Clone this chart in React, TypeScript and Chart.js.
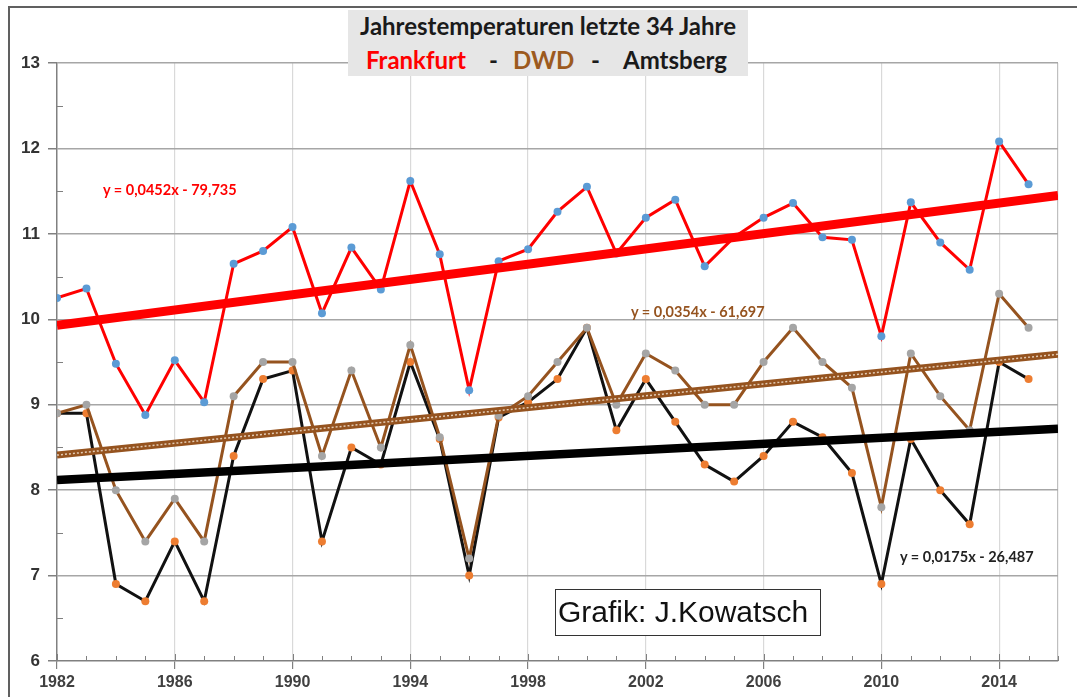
import React, { useEffect, useRef } from 'react';
import { Chart, registerables } from 'chart.js';

Chart.register(...registerables);

// ---- data ----
const years = [1982, 1983, 1984, 1985, 1986, 1987, 1988, 1989, 1990, 1991, 1992, 1993, 1994, 1995, 1996, 1997, 1998,
  1999, 2000, 2001, 2002, 2003, 2004, 2005, 2006, 2007, 2008, 2009, 2010, 2011, 2012, 2013, 2014, 2015];

const frankfurt = [10.25, 10.36, 9.48, 8.88, 9.52, 9.03, 10.65, 10.8, 11.08, 10.07, 10.84, 10.35, 11.62, 10.76, 9.17,
  10.68, 10.82, 11.26, 11.55, 10.77, 11.19, 11.4, 10.62, 10.96, 11.19, 11.36, 10.96, 10.93, 9.8, 11.37, 10.9, 10.58,
  12.08, 11.58];

const dwd = [8.9, 9.0, 8.0, 7.4, 7.9, 7.4, 9.1, 9.5, 9.5, 8.4, 9.4, 8.5, 9.7, 8.62, 7.2, 8.87, 9.1, 9.5, 9.9, 9.0, 9.6,
  9.4, 9.0, 9.0, 9.5, 9.9, 9.5, 9.2, 7.8, 9.6, 9.1, 8.7, 10.3, 9.9];

const amtsberg = [8.9, 8.9, 6.9, 6.7, 7.4, 6.7, 8.4, 9.3, 9.4, 7.4, 8.5, 8.3, 9.5, 8.6, 7.0, 8.85, 9.03, 9.3, 9.9, 8.7,
  9.3, 8.8, 8.3, 8.1, 8.4, 8.8, 8.62, 8.2, 6.9, 8.6, 8.0, 7.6, 9.5, 9.3];

const trendYears = [1982, 2016];
const frankfurtTrend = [9.93, 11.45];
const dwdTrend = [8.41, 9.59];
const amtsbergTrend = [8.12, 8.72];

const xTickLabels = [1982, 1986, 1990, 1994, 1998, 2002, 2006, 2010, 2014];
const yTickLabels = [6, 7, 8, 9, 10, 11, 12, 13];

const frankfurtEq = 'y = 0,0452x - 79,735';
const dwdEq = 'y = 0,0354x - 61,697';
const amtsbergEq = 'y = 0,0175x - 26,487';

const RED = '#ff0000';
const BROWN = '#95531f';
const BLACK = '#000000';

const pts = (xs: number[], ys: number[]) => xs.map((x, i) => ({ x, y: ys[i] }));

const minorTicks = {
  id: 'minorTicks',
  beforeDatasetsDraw(chart: any) {
    const { ctx, chartArea } = chart;
    const x = chart.scales.x;
    const y = chart.scales.y;
    ctx.save();
    ctx.strokeStyle = '#808080';
    ctx.lineWidth = 1;
    years.concat([2016]).forEach((yr) => {
      const px = Math.round(x.getPixelForValue(yr)) + 0.5;
      const major = xTickLabels.includes(yr);
      ctx.beginPath();
      ctx.moveTo(px, chartArea.bottom);
      ctx.lineTo(px, chartArea.bottom - (major ? 7 : 5));
      ctx.stroke();
    });
    yTickLabels.forEach((v) => {
      if (v + 0.5 > 13) return;
      const py = Math.round(y.getPixelForValue(v + 0.5)) + 0.5;
      ctx.beginPath();
      ctx.moveTo(chartArea.left, py);
      ctx.lineTo(chartArea.left + 6, py);
      ctx.stroke();
    });
    ctx.restore();
  },
};

function ChartCanvas() {
  const ref = useRef<HTMLCanvasElement | null>(null);
  useEffect(() => {
    if (!ref.current) return;
    const chart = new Chart(ref.current, {
      type: 'line',
      data: {
        datasets: [
          { data: pts(trendYears, frankfurtTrend), borderColor: RED, borderWidth: 9, pointRadius: 0, tension: 0 },
          { data: pts(trendYears, dwdTrend), borderColor: 'rgba(235,215,195,0.9)', borderWidth: 1.5, borderDash: [2, 2], pointRadius: 0, tension: 0 },
          { data: pts(trendYears, dwdTrend), borderColor: BROWN, borderWidth: 7, pointRadius: 0, tension: 0 },
          { data: pts(trendYears, amtsbergTrend), borderColor: BLACK, borderWidth: 8.5, pointRadius: 0, tension: 0 },
          { data: pts(years, frankfurt), borderColor: RED, borderWidth: 3, pointRadius: 4, pointBorderWidth: 0, pointBackgroundColor: '#5b9bd5', tension: 0 },
          { data: pts(years, dwd), borderColor: BROWN, borderWidth: 3, pointRadius: 4, pointBorderWidth: 0, pointBackgroundColor: '#a5a5a5', tension: 0 },
          { data: pts(years, amtsberg), borderColor: '#111111', borderWidth: 3, pointRadius: 4, pointBorderWidth: 0, pointBackgroundColor: '#ed7d31', tension: 0 },
        ],
      },
      options: {
        responsive: false,
        animation: false,
        events: [],
        layout: { padding: { top: 63, right: 19, left: 0, bottom: 0 } },
        plugins: { legend: { display: false }, tooltip: { enabled: false }, title: { display: false } },
        scales: {
          x: {
            type: 'linear',
            min: 1982,
            max: 2016,
            afterFit: (s: any) => { s.height = 36; },
            ticks: {
              stepSize: 1,
              autoSkip: false,
              maxRotation: 0,
              padding: 4,
              color: '#404040',
              font: { family: 'Liberation Sans, Arial, sans-serif', size: 16, weight: 'bold' },
              callback: (v: any) => (xTickLabels.includes(Number(v)) ? String(v) : ''),
            },
            grid: {
              color: (c: any) => {
                const v = c.tick ? c.tick.value : null;
                if (v === 2016) return '#bfbfbf';
                if (v !== null && v !== 1982 && xTickLabels.includes(v)) return '#d9d9d9';
                return 'transparent';
              },
              tickColor: (c: any) => (c.tick && (xTickLabels.includes(c.tick.value)) ? '#808080' : 'transparent'),
              tickLength: 8,
              lineWidth: 1.2,
            },
            border: { display: true, color: '#808080', width: 1.5 },
          },
          y: {
            min: 6,
            max: 13,
            afterFit: (s: any) => { s.width = 57; },
            ticks: {
              stepSize: 0.5,
              autoSkip: false,
              padding: 8,
              color: '#333333',
              font: { family: 'Liberation Sans, Arial, sans-serif', size: 17, weight: 'bold' },
              callback: (v: any) => (yTickLabels.includes(Number(v)) ? String(v) : ''),
            },
            grid: {
              color: (c: any) => (c.tick && yTickLabels.includes(c.tick.value) && c.tick.value !== 6 ? '#a6a6a6' : 'transparent'),
              tickColor: (c: any) => (c.tick && yTickLabels.includes(c.tick.value) ? '#808080' : 'transparent'),
              tickLength: 9,
              lineWidth: 1.5,
            },
            border: { display: true, color: '#808080', width: 1.5 },
          },
        },
      },
      plugins: [minorTicks],
    } as any);
    return () => chart.destroy();
  }, []);
  return <canvas ref={ref} width={1077} height={697} style={{ position: 'absolute', left: 0, top: 0, width: 1077, height: 697 }} />;
}

const abs = (left: number, top: number, extra: React.CSSProperties = {}): React.CSSProperties => ({
  position: 'absolute', left, top, whiteSpace: 'nowrap', lineHeight: 1.2, ...extra,
});

export default function App() {
  const titleFont = 'Lato, "Open Sans", sans-serif';
  const t: React.CSSProperties = { fontFamily: titleFont, fontWeight: 700, fontSize: 24 };
  return (
    <div style={{ position: 'fixed', left: 0, top: 0, width: 1077, height: 697, background: '#ffffff', overflow: 'hidden' }}>
      <ChartCanvas />
      {/* outer frame */}
      <div style={{ position: 'absolute', left: 8, top: 6, width: 1100, height: 720, borderLeft: '2px solid #606060', borderTop: '2px solid #606060' }} />
      {/* title box */}
      <div style={{ position: 'absolute', left: 348, top: 10, width: 400, height: 66, background: '#e6e6e6' }} />
      <div style={abs(348, 12, { ...t, width: 400, textAlign: 'center', color: '#1a1a1a' })}>
        Jahrestemperaturen letzte 34 Jahre
      </div>
      <div style={abs(366, 46, { ...t, color: '#ff0000' })}>Frankfurt</div>
      <div style={abs(489, 46, { ...t, color: '#1a1a1a' })}>-</div>
      <div style={abs(513, 46, { ...t, color: '#9c5a1e' })}>DWD</div>
      <div style={abs(591, 46, { ...t, color: '#1a1a1a' })}>-</div>
      <div style={abs(623, 46, { ...t, color: '#1a1a1a' })}>Amtsberg</div>
      {/* trend equations */}
      <div style={abs(103, 181, { fontFamily: titleFont, fontWeight: 700, fontSize: 14.5, color: RED })}>{frankfurtEq}</div>
      <div style={abs(631, 303, { fontFamily: titleFont, fontWeight: 700, fontSize: 14.5, color: BROWN })}>{dwdEq}</div>
      <div style={abs(900, 548, { fontFamily: titleFont, fontWeight: 700, fontSize: 14.5, color: '#222222' })}>{amtsbergEq}</div>
      {/* credit box */}
      <div style={{ position: 'absolute', left: 555, top: 589, width: 266, height: 47, border: '1.5px solid #333', background: '#ffffff', boxSizing: 'border-box' }} />
      <div style={abs(558, 591, { fontFamily: 'Liberation Sans, Arial, sans-serif', fontSize: 30, color: '#111', lineHeight: '42px' })}>Grafik: J.Kowatsch</div>
    </div>
  );
}
